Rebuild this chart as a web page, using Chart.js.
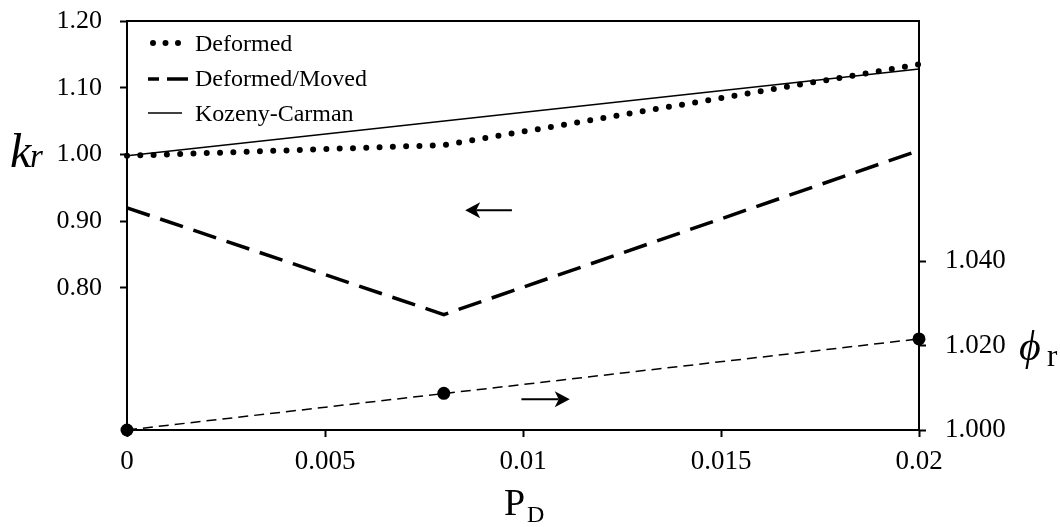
<!DOCTYPE html>
<html>
<head>
<meta charset="utf-8">
<script src="https://cdn.jsdelivr.net/npm/chart.js@4.4.1/dist/chart.umd.min.js"></script>
<style>
  html, body { margin: 0; padding: 0; background: #fff; }
  #wrap { width: 1060px; height: 527px; }
</style>
</head>
<body>
<div id="wrap"><canvas id="kChart" width="1060" height="527"></canvas></div>
<script>
// P_D positions of the computed cases
var pdValues = [0, 0.008, 0.02];
var deformed = [0.998, 1.014, 1.135];
var deformedMoved = [0.920, 0.760, 1.006];
// Kozeny-Carman estimate is a straight line between the end points
var kozenyPd = [0, 0.02];
var kozeny = [0.998, 1.128];
// porosity ratio (right axis)
var phiValues = [1.000, 1.0087, 1.0216];
var phiFitPd = [0, 0.02];
var phiFit = [1.000, 1.0216];

var xTicks = [0, 0.005, 0.01, 0.015, 0.02];
var xTickLabels = ['0', '0.005', '0.01', '0.015', '0.02'];
var kTicks = [0.8, 0.9, 1.0, 1.1, 1.2];
var phiTicks = [1.0, 1.02, 1.04];

var serif = '"Liberation Serif", "Times New Roman", serif';
Chart.defaults.font.family = serif;
Chart.defaults.color = '#000';

function pts(xs, ys) {
    return xs.map(function (x, i) { return { x: x, y: ys[i] }; });
}

function fixTicks(values) {
    return function (scale) {
        scale.ticks = values.map(function (v) { return { value: v }; });
    };
}

// fixed axis sizes, no extra room for overhanging labels
function fitWidth(w) {
    return function (s) {
        s.width = w;
        s.paddingTop = 0;
        s.paddingBottom = 0;
    };
}

// legend drawn inside the plot, top left
var legendPlugin = {
    id: 'innerLegend',
    afterDraw: function (chart) {
        var ctx = chart.ctx;
        var rows = [
            { ds: 0, y: 43, base: 51, x0: 153, x1: 180, dash: [0, 12.5] },
            { ds: 1, y: 79, base: 86, x0: 148, x1: 188, dash: [11, 8, 22, 0] },
            { ds: 2, y: 113, base: 121, x0: 148, x1: 182, dash: [] }
        ];
        ctx.save();
        rows.forEach(function (r) {
            var ds = chart.data.datasets[r.ds];
            ctx.beginPath();
            ctx.setLineDash(r.dash);
            ctx.lineWidth = ds.borderWidth;
            ctx.lineCap = ds.borderCapStyle || 'butt';
            ctx.strokeStyle = ds.borderColor;
            ctx.moveTo(r.x0, r.y);
            ctx.lineTo(r.x1, r.y);
            ctx.stroke();
            ctx.setLineDash([]);
            ctx.fillStyle = '#000';
            ctx.font = '24px ' + serif;
            ctx.textBaseline = 'alphabetic';
            ctx.textAlign = 'left';
            ctx.fillText(ds.label, 195, r.base);
        });
        ctx.restore();
    }
};

// top frame line, arrows and axis titles
var decorPlugin = {
    id: 'decor',
    afterDraw: function (chart) {
        var ctx = chart.ctx;
        var a = chart.chartArea;
        var x = chart.scales.x, yk = chart.scales.yk, yp = chart.scales.yp;
        ctx.save();
        ctx.strokeStyle = '#000';
        ctx.lineWidth = 2;
        ctx.beginPath();
        ctx.moveTo(a.left, a.top);
        ctx.lineTo(a.right + 1, a.top);
        ctx.stroke();

        function arrow(x0, y0, x1, y1) {
            var ang = Math.atan2(y1 - y0, x1 - x0);
            var len = 15, half = 8, back = 4;
            ctx.beginPath();
            ctx.lineWidth = 2;
            ctx.moveTo(x0, y0);
            ctx.lineTo(x1 - Math.cos(ang) * (len - back), y1 - Math.sin(ang) * (len - back));
            ctx.stroke();
            var bx = x1 - Math.cos(ang) * len, by = y1 - Math.sin(ang) * len;
            var nx = -Math.sin(ang), ny = Math.cos(ang);
            ctx.beginPath();
            ctx.moveTo(x1, y1);
            ctx.lineTo(bx + nx * half, by + ny * half);
            ctx.lineTo(x1 - Math.cos(ang) * (len - back), y1 - Math.sin(ang) * (len - back));
            ctx.lineTo(bx - nx * half, by - ny * half);
            ctx.closePath();
            ctx.fillStyle = '#000';
            ctx.fill();
        }
        // left arrow points at the k_r axis, right arrow at the phi_r axis
        arrow(x.getPixelForValue(0.00972), yk.getPixelForValue(0.9163),
              x.getPixelForValue(0.00854), yk.getPixelForValue(0.9163));
        arrow(x.getPixelForValue(0.00996), yp.getPixelForValue(1.00728),
              x.getPixelForValue(0.01118), yp.getPixelForValue(1.00728));

        ctx.fillStyle = '#000';
        ctx.textBaseline = 'alphabetic';
        ctx.textAlign = 'left';
        ctx.font = 'italic 48px ' + serif;
        ctx.fillText('k', 10, 167);
        ctx.font = 'italic 33px ' + serif;
        ctx.fillText('r', 30, 167);

        ctx.font = 'italic 42px ' + serif;
        ctx.fillText('\u03D5', 1019, 360);
        ctx.font = '31px ' + serif;
        ctx.fillText('r', 1047, 366);

        ctx.font = '38px ' + serif;
        ctx.fillText('P', 504, 515);
        ctx.font = '24px ' + serif;
        ctx.fillText('D', 527, 522);
        ctx.restore();
    }
};

var ctx = document.getElementById('kChart').getContext('2d');
var chart = new Chart(ctx, {
    type: 'scatter',
    data: {
        datasets: [
            {
                label: 'Deformed',
                data: pts(pdValues, deformed),
                yAxisID: 'yk',
                showLine: true,
                borderColor: '#000',
                borderWidth: 6,
                borderDash: [0, 13.3],
                borderCapStyle: 'round',
                pointRadius: 0,
                clip: false
            },
            {
                label: 'Deformed/Moved',
                data: pts(pdValues, deformedMoved),
                yAxisID: 'yk',
                showLine: true,
                borderColor: '#000',
                borderWidth: 3.5,
                borderDash: [24, 11],
                pointRadius: 0,
                clip: false
            },
            {
                label: 'Kozeny-Carman',
                data: pts(kozenyPd, kozeny),
                yAxisID: 'yk',
                showLine: true,
                borderColor: '#000',
                borderWidth: 1.5,
                pointRadius: 0,
                clip: false
            },
            {
                label: 'phi fit',
                data: pts(phiFitPd, phiFit),
                yAxisID: 'yp',
                showLine: true,
                borderColor: '#000',
                borderWidth: 1.5,
                borderDash: [10, 6],
                pointRadius: 0,
                clip: false
            },
            {
                label: 'phi',
                data: pts(pdValues, phiValues),
                yAxisID: 'yp',
                showLine: false,
                pointRadius: 6.5,
                pointBackgroundColor: '#000',
                pointBorderWidth: 0,
                clip: false
            }
        ]
    },
    options: {
        responsive: false,
        animation: false,
        layout: { padding: { top: 21, left: 0, right: 0, bottom: 0 } },
        plugins: {
            legend: { display: false },
            tooltip: { enabled: false }
        },
        scales: {
            x: {
                type: 'linear',
                position: 'bottom',
                min: 0,
                max: 0.02,
                afterBuildTicks: fixTicks(xTicks),
                afterFit: function (s) {
                    s.height = 97;
                    s.paddingLeft = 0;
                    s.paddingRight = 0;
                },
                border: { display: true, color: '#000', width: 2 },
                grid: { drawOnChartArea: false, tickLength: 7, tickColor: '#000', tickWidth: 2 },
                ticks: {
                    font: { size: 27 },
                    color: '#000',
                    padding: 9,
                    maxRotation: 0,
                    callback: function (v) {
                        var i = xTicks.indexOf(v);
                        return i >= 0 ? xTickLabels[i] : '';
                    }
                }
            },
            yk: {
                type: 'linear',
                position: 'left',
                min: 0.587,
                max: 1.2,
                afterBuildTicks: fixTicks(kTicks),
                afterFit: fitWidth(127),
                border: { display: true, color: '#000', width: 2 },
                grid: { drawOnChartArea: false, tickLength: 7, tickColor: '#000', tickWidth: 2 },
                ticks: {
                    font: { size: 26 },
                    color: '#000',
                    padding: 18,
                    callback: function (v) { return v.toFixed(2); }
                }
            },
            yp: {
                type: 'linear',
                position: 'right',
                min: 1.0,
                max: 1.097,
                afterBuildTicks: fixTicks(phiTicks),
                afterFit: fitWidth(141),
                border: { display: true, color: '#000', width: 2 },
                grid: { drawOnChartArea: false, tickLength: 7, tickColor: '#000', tickWidth: 2 },
                ticks: {
                    font: { size: 27 },
                    color: '#000',
                    padding: 19,
                    callback: function (v) { return v.toFixed(3); }
                }
            }
        }
    },
    plugins: [legendPlugin, decorPlugin]
});
</script>
</body>
</html>
